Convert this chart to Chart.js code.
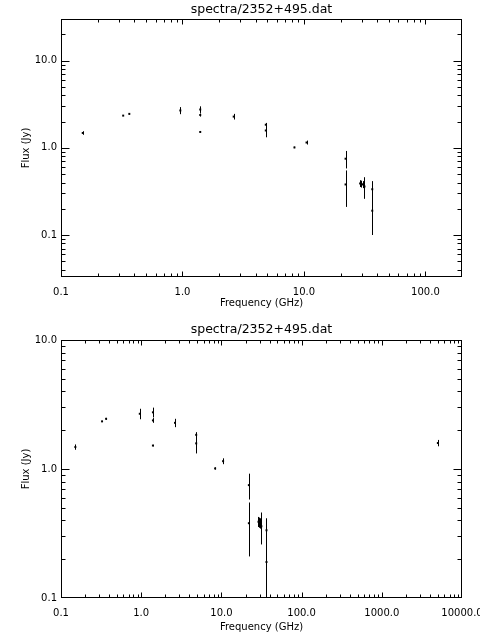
<!DOCTYPE html>
<html><head><meta charset="utf-8">
<script src="https://cdn.jsdelivr.net/npm/chart.js@4.4.1/dist/chart.umd.min.js"></script>
<style>
html,body{margin:0;padding:0;background:#fff;}
.wrap{width:480px;height:320px;position:relative;}
canvas{display:block;}
</style></head><body>
<div class="wrap"><canvas id="c1" width="480" height="320"></canvas></div>
<div class="wrap"><canvas id="c2" width="480" height="320"></canvas></div>
<script>
// ---- data ----
const titleText = 'spectra/2352+495.dat';
const xLabel = 'Frequency (GHz)';
const yLabel = 'Flux (Jy)';
const freq    = [0.151, 0.325, 0.365, 0.96, 1.4,  1.4,  1.4,  2.64, 4.85, 4.85, 8.35, 10.5, 22,   22,   29.0,  29.7, 30.4,  31.5, 36.5,  36.5, 5000];
const flux    = [1.48,  2.34,  2.45,  2.68, 2.75, 2.38, 1.52, 2.28, 1.84, 1.58, 1.01, 1.15, 0.75, 0.38, 0.39,  0.385, 0.38, 0.36, 0.335, 0.19, 1.59];
const fluxErr = [0.07,  0.02,  0.04,  0.25, 0.24, 0.10, 0.02, 0.17, 0.09, 0.26, 0.02, 0.06, 0.17, 0.17, 0.035, 0.035, 0.035, 0.10, 0.08, 0.09, 0.09];
const topXRange = [0.1, 200];
const topYRange = [0.033, 30];
const botXRange = [0.1, 10000];
const botYRange = [0.1, 10];
const topXTicks = [0.1, 1, 10, 100];
const botXTicks = [0.1, 1, 10, 100, 1000, 10000];
const yTicks    = [0.1, 1, 10];

const FONT = 'DejaVu Sans';

const errorBars = {
  id: 'errorBars',
  afterDatasetsDraw(chart) {
    const {ctx, chartArea: a, scales: {x, y}} = chart;
    ctx.save();
    ctx.beginPath(); ctx.rect(a.left, a.top, a.right - a.left, a.bottom - a.top); ctx.clip();
    ctx.strokeStyle = '#000'; ctx.lineWidth = 1;
    ctx.beginPath();
    for (let i = 0; i < freq.length; i++) {
      const px = Math.round(x.getPixelForValue(freq[i])) + 0.5;
      const yTop = y.getPixelForValue(flux[i] + fluxErr[i]);
      const lo = flux[i] - fluxErr[i];
      const yBot = lo > 0 ? y.getPixelForValue(lo) : a.bottom + 10;
      ctx.moveTo(px, yTop); ctx.lineTo(px, yBot);
    }
    ctx.stroke();
    ctx.restore();
  }
};

const frameTicks = {
  id: 'frameTicks',
  afterDraw(chart, args, opts) {
    const {ctx, chartArea: a, scales: {x, y}} = chart;
    ctx.save();
    ctx.strokeStyle = '#000'; ctx.lineWidth = 1;
    const L = Math.round(a.left) + 0.5, R = Math.round(a.right) - 0.5;
    const T = Math.round(a.top) + 0.5, B = Math.round(a.bottom) - 0.5;
    ctx.strokeRect(L, T, R - L, B - T);
    ctx.beginPath();
    const logTicks = (sc, cb) => {
      const lmin = Math.log10(sc.min), lmax = Math.log10(sc.max);
      const lo = Math.floor(lmin), hi = Math.ceil(lmax);
      for (let d = lo; d <= hi; d++) for (let m = 1; m <= 9; m++) {
        const v = m * Math.pow(10, d), lv = Math.log10(v);
        if (lv <= lmin + 1e-6 || lv >= lmax - 1e-6) continue;
        cb(sc.getPixelForValue(v), m === 1);
      }
    };
    logTicks(x, (px, major) => {
      const xx = Math.round(px) + 0.5, len = major ? opts.xMajor : opts.xMinor;
      ctx.moveTo(xx, B); ctx.lineTo(xx, B - len);
      ctx.moveTo(xx, T); ctx.lineTo(xx, T + len);
    });
    logTicks(y, (py, major) => {
      const yy = Math.round(py) + 0.5, len = major ? opts.yMajor : opts.yMinor;
      ctx.moveTo(L, yy); ctx.lineTo(L + len, yy);
      ctx.moveTo(R, yy); ctx.lineTo(R - len, yy);
    });
    ctx.stroke();
    ctx.restore();
  }
};

function makeChart(id, xr, yr, xt, titlePad, xScaleH, xTitlePadB) {
  const tickFont = {family: FONT, size: 10};
  return new Chart(document.getElementById(id), {
    type: 'scatter',
    data: {datasets: [{
      data: freq.map((f, i) => ({x: f, y: flux[i]})),
      pointStyle: 'rect', pointRadius: 1.4, pointHoverRadius: 1.4,
      backgroundColor: '#000', borderWidth: 0
    }]},
    options: {
      responsive: false, animation: false, events: [],
      layout: {padding: {left: 0, right: 18, top: 0, bottom: 0}},
      plugins: {
        legend: {display: false}, tooltip: {enabled: false},
        title: {display: true, text: titleText, color: '#000', fullSize: false,
          font: {family: FONT, size: 12.5, weight: 'normal', lineHeight: 1.2}, padding: titlePad},
        frameTicks: {xMajor: 5, xMinor: 3, yMajor: 8, yMinor: 4}
      },
      scales: {
        x: {
          type: 'logarithmic', min: xr[0], max: xr[1],
          afterBuildTicks: s => { s.ticks = xt.map(v => ({value: v})); },
          afterFit: s => { s.height = xScaleH; s.paddingLeft = 0; s.paddingRight = 0; },
          grid: {display: false, drawTicks: false}, border: {display: false},
          ticks: {autoSkip: false, maxRotation: 0, minRotation: 0, padding: 9, color: '#000', font: tickFont,
            callback: v => Number(v).toFixed(1)},
          title: {display: true, text: xLabel, color: '#000', font: {family: FONT, size: 10, lineHeight: 1.2},
            padding: {top: 0, bottom: xTitlePadB}}
        },
        y: {
          type: 'logarithmic', min: yr[0], max: yr[1],
          afterBuildTicks: s => { s.ticks = yTicks.map(v => ({value: v})); },
          afterFit: s => { s.width = 61; s.paddingTop = 0; s.paddingBottom = 0; },
          grid: {display: false, drawTicks: false}, border: {display: false},
          ticks: {autoSkip: false, padding: 4, color: '#000', font: tickFont,
            callback: v => Number(v).toFixed(1)},
          title: {display: true, text: yLabel, color: '#000', font: {family: FONT, size: 10, lineHeight: 1.2},
            padding: {top: 20.7, bottom: 0}}
        }
      }
    },
    plugins: [errorBars, frameTicks]
  });
}

makeChart('c1', topXRange, topYRange, topXTicks, {top: 2.5, bottom: 1.5}, 43, 11);
makeChart('c2', botXRange, botYRange, botXTicks, {top: 2.5, bottom: 2.5}, 42, 7);
</script>
</body></html>
